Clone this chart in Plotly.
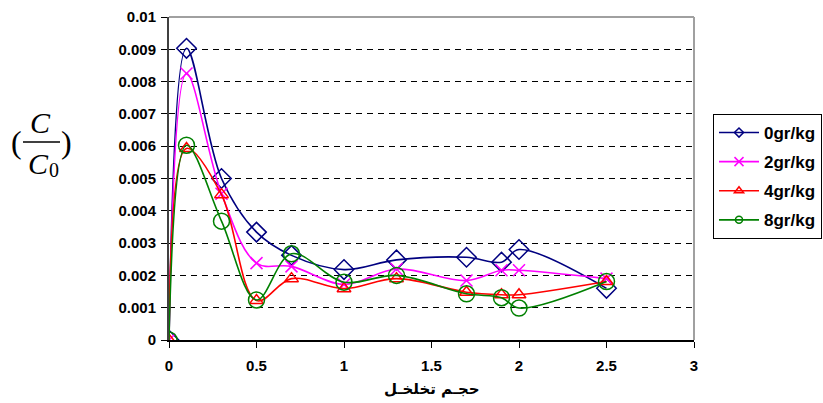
import plotly.graph_objects as go

# ---- data ----
x_vals = [0, 0.1, 0.3, 0.5, 0.7, 1.0, 1.3, 1.7, 1.9, 2.0, 2.5]
s_0 = [0, 0.00903, 0.0050, 0.00334, 0.00262, 0.00218, 0.00248, 0.00256, 0.00241, 0.00280, 0.00160]
s_2 = [0, 0.00825, 0.00453, 0.00238, 0.00228, 0.00172, 0.00220, 0.00184, 0.00216, 0.00216, 0.00190]
s_4 = [0, 0.00593, 0.00450, 0.00122, 0.00190, 0.00159, 0.00190, 0.00148, 0.00140, 0.00140, 0.00181]
s_8 = [0, 0.00603, 0.00368, 0.00124, 0.00267, 0.00179, 0.00200, 0.00143, 0.00131, 0.00099, 0.00181]
series_names = ["0gr/kg", "2gr/kg", "4gr/kg", "8gr/kg"]
x_ticks = [0, 0.5, 1, 1.5, 2, 2.5, 3]
x_ticklabels = ["0", "0.5", "1", "1.5", "2", "2.5", "3"]
y_ticks = [0, 0.001, 0.002, 0.003, 0.004, 0.005, 0.006, 0.007, 0.008, 0.009, 0.01]
y_ticklabels = ["0", "0.001", "0.002", "0.003", "0.004", "0.005", "0.006", "0.007", "0.008", "0.009", "0.01"]
x_title = "حجـم تخلخـل"

W, H = 823, 403
L, R, T, B = 169, 129, 17, 63
PW, PH = W - L - R, H - T - B

def cx(p):
    return p / W

def cy(p):
    return 1 - p / H

styles = [
    dict(color="#000080", symbol="diamond-open", size=15, lsize=7),
    dict(color="#FF00FF", symbol="x-thin-open", size=12, lsize=9),
    dict(color="#FF0000", symbol="triangle-up-open", size=12, lsize=8),
    dict(color="#008000", symbol="circle-open", size=16, lsize=7),
]

fig = go.Figure()
for name, ys, st in zip(series_names, [s_0, s_2, s_4, s_8], styles):
    fig.add_trace(go.Scatter(
        x=x_vals, y=ys, name=name, mode="lines+markers", showlegend=False,
        line=dict(color=st["color"], width=1.6, shape="spline", smoothing=1.0),
        marker=dict(symbol=st["symbol"], size=st["size"], color=st["color"],
                    line=dict(color=st["color"], width=1.5)),
        legendgroup=name,
    ))
# legend-only entries with small markers
for name, st in zip(series_names, styles):
    fig.add_trace(go.Scatter(
        x=[None], y=[None], name=name, mode="lines+markers", showlegend=True,
        line=dict(color=st["color"], width=1.6),
        marker=dict(symbol=st["symbol"], size=st["lsize"], color=st["color"],
                    line=dict(color=st["color"], width=1.5)),
        legendgroup=name,
    ))

tickfont = dict(family="Liberation Sans, Arial", size=15, color="black", weight="bold")

fig.update_layout(
    width=W, height=H,
    margin=dict(l=L, r=R, t=T, b=B, pad=0, autoexpand=False),
    paper_bgcolor="white", plot_bgcolor="white",
    showlegend=True,
    legend=dict(
        xref="container", yref="container",
        x=cx(713), y=cy(114), xanchor="left", yanchor="top",
        bordercolor="black", borderwidth=1, bgcolor="white",
        font=dict(family="Liberation Sans, Arial", size=17, color="black", weight="bold"),
        tracegroupgap=4, itemwidth=40,
    ),
    xaxis=dict(
        range=[0, 3], tickvals=x_ticks, ticktext=x_ticklabels,
        showgrid=False, zeroline=False, automargin=False,
        showline=True, linecolor="black", linewidth=1.5,
        ticks="outside", ticklen=6, tickcolor="black", tickwidth=1,
        tickfont=tickfont, ticklabelstandoff=5,
    ),
    yaxis=dict(
        range=[0, 0.01], tickvals=y_ticks, ticktext=y_ticklabels,
        showgrid=True, gridcolor="black", gridwidth=1, griddash="6px,5px",
        zeroline=False, automargin=False,
        showline=True, linecolor="#404040", linewidth=2,
        ticks="outside", ticklen=6, tickcolor="black", tickwidth=1,
        tickfont=tickfont, ticklabelstandoff=2,
    ),
    font=dict(family="Liberation Sans, Arial"),
)

# gray top and right borders
fig.add_shape(type="line", xref="paper", yref="paper", x0=0, x1=1, y0=1, y1=1,
              line=dict(color="#a0a0a0", width=2), layer="above")
fig.add_shape(type="line", xref="paper", yref="paper", x0=1, x1=1, y0=0, y1=1,
              line=dict(color="#a0a0a0", width=2), layer="above")

def ann(text, x, y, font):
    fig.add_annotation(text=text, xref="paper", yref="paper",
                       x=(x - L) / PW, y=(H - B - y) / PH,
                       xanchor="center", yanchor="middle", showarrow=False, font=font)

# x-axis title
ann(x_title, 432, 389, dict(family="DejaVu Sans", size=15, color="black", weight="bold"))

# y-axis label: (C / C0)
serif = "Liberation Serif, Times New Roman"
ann("(", 16, 142, dict(family=serif, size=32, color="black"))
ann(")", 66, 142, dict(family=serif, size=32, color="black"))
ann("<i>C</i>", 40, 122, dict(family=serif, size=30, color="black"))
ann("<i>C</i>", 38, 163, dict(family=serif, size=30, color="black"))
ann("0", 54, 170, dict(family=serif, size=20, color="black"))
fig.add_shape(type="line", xref="paper", yref="paper",
              x0=(23 - L) / PW, x1=(60 - L) / PW,
              y0=(H - B - 142) / PH, y1=(H - B - 142) / PH,
              line=dict(color="black", width=1.5))

fig.write_html("out.html", config={"displayModeBar": False},
               post_script="document.body.style.margin='0';document.body.style.overflow='hidden';")
